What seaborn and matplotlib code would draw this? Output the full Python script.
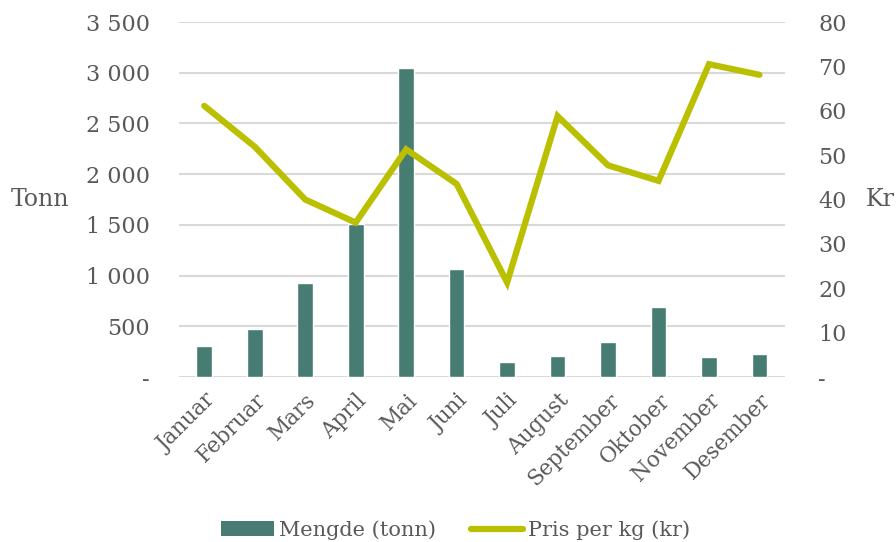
import matplotlib
matplotlib.use("Agg")
import matplotlib.pyplot as plt
from matplotlib.ticker import FuncFormatter, MultipleLocator
from matplotlib.patches import Patch
from matplotlib.lines import Line2D
import seaborn as sns
import pandas as pd

months = ["Januar", "Februar", "Mars", "April", "Mai", "Juni", "Juli",
          "August", "September", "Oktober", "November", "Desember"]
mengde_tonn = [306, 470, 930, 1512, 3044, 1063, 152, 208, 347, 692, 197, 227]
pris_per_kg = [61.1, 51.9, 40.0, 34.8, 51.3, 43.5, 21.3, 58.8, 47.7, 44.2, 70.5, 68.1]

bar_color = "#467C72"
line_color = "#BAC000"
grid_color = "#D9D9D9"
text_color = "#595959"

sns.set_theme(style="white")
plt.rcParams["font.family"] = ["DejaVu Serif"]

df = pd.DataFrame({"Måned": months, "Mengde": mengde_tonn, "Pris": pris_per_kg})

fig = plt.figure(figsize=(8.96, 5.42), dpi=100)
ax = fig.add_axes([0.1998, 0.3044, 0.676, 0.655])

# Monthly volume as bars on the left axis
sns.barplot(data=df, x="Måned", y="Mengde", color=bar_color, width=0.31,
            saturation=1, ax=ax, zorder=3)
ax.set_ylim(0, 3500)
ax.yaxis.set_major_locator(MultipleLocator(500))
ax.yaxis.set_major_formatter(FuncFormatter(
    lambda v, p: "-" if v == 0 else f"{int(v):,}".replace(",", " ")))
ax.grid(axis="y", color=grid_color, linewidth=1.5, zorder=0)
ax.set_axisbelow(True)
for s in ax.spines.values():
    s.set_visible(False)
ax.tick_params(axis="both", length=0, colors=text_color)
ax.tick_params(axis="y", pad=21, labelsize=16)
ax.tick_params(axis="x", pad=9, labelsize=15.5)
for lbl in ax.get_xticklabels():
    lbl.set_rotation(45)
    lbl.set_ha("right")
    lbl.set_rotation_mode("anchor")
ax.set_xlabel("")
ax.set_ylabel("")

# Price per kg as a line on the right axis
ax2 = ax.twinx()
sns.lineplot(data=df, x="Måned", y="Pris", color=line_color, linewidth=4.5,
             sort=False, ax=ax2, solid_capstyle="round", solid_joinstyle="miter")
ax2.set_ylim(0, 80)
ax2.yaxis.set_major_locator(MultipleLocator(10))
ax2.yaxis.set_major_formatter(FuncFormatter(
    lambda v, p: "-" if v == 0 else f"{int(v)}"))
for s in ax2.spines.values():
    s.set_visible(False)
ax2.tick_params(axis="y", length=0, colors=text_color, labelsize=16, pad=24)
ax2.set_ylabel("")
ax.set_xlim(-0.5, len(months) - 0.5)

fig.text(40 / 896, 1 - 200 / 542, "Tonn", ha="center", va="center",
         fontsize=17, color=text_color)
fig.text(866 / 896, 1 - 200 / 542, "Kr", ha="left", va="center",
         fontsize=17, color=text_color)

handles = [Patch(facecolor=bar_color, edgecolor="none"),
           Line2D([0], [0], color=line_color, linewidth=4.5, solid_capstyle="round")]
fig.legend(handles, ["Mengde (tonn)", "Pris per kg (kr)"], loc="center",
           bbox_to_anchor=(456 / 896, 1 - 530 / 542), ncol=2, frameon=False,
           fontsize=15, labelcolor=text_color, handlelength=2.5,
           handletextpad=0.25, columnspacing=1.7, borderpad=0)

fig.savefig("out.png", dpi=100)
